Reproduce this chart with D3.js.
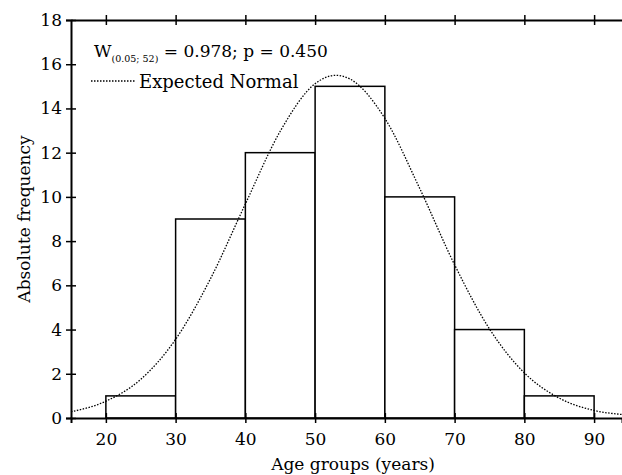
<!DOCTYPE html>
<html>
<head>
<meta charset="utf-8">
<script src="https://cdn.jsdelivr.net/npm/d3@7"></script>
<style>
  body { margin: 0; background: #fff; }
  svg { display: block; }
  text { font-family: "DejaVu Serif", serif; fill: #000; }
</style>
</head>
<body>
<div id="chart"></div>
<script>
// age group bins and counts
var binStarts = [20, 30, 40, 50, 60, 70, 80];
var binWidth = 10;
var counts = [1, 9, 12, 15, 10, 4, 1];

// expected normal curve
var curveX = [15, 20, 25, 30, 35, 40, 45, 50, 53, 55, 60, 65, 70, 75, 80, 85, 90, 94];
var curveY = [0.28, 0.76, 1.75, 3.56, 6.3, 9.68, 12.97, 15.12, 15.5, 15.33, 13.55, 10.38, 6.93, 4.03, 2.04, 0.9, 0.34, 0.16];

var xTicks = [20, 30, 40, 50, 60, 70, 80, 90];
var yTicks = [0, 2, 4, 6, 8, 10, 12, 14, 16, 18];

var W = 622, H = 475;
var m = {left: 71, right: 622, top: 20, bottom: 418};

var svg = d3.select("#chart").append("svg")
    .attr("width", W)
    .attr("height", H);

var x = d3.scaleLinear().domain([15, 94]).range([m.left, m.right]);
var y = d3.scaleLinear().domain([0, 18]).range([m.bottom, m.top]);

// bars
svg.selectAll("rect.bar")
    .data(binStarts)
  .enter().append("rect")
    .attr("class", "bar")
    .attr("x", function(d) { return x(d); })
    .attr("y", function(d, i) { return y(counts[i]); })
    .attr("width", function(d) { return x(d + binWidth) - x(d); })
    .attr("height", function(d, i) { return y(0) - y(counts[i]); })
    .attr("fill", "#fff")
    .attr("stroke", "#000")
    .attr("stroke-width", 1.5);

// normal curve
var line = d3.line()
    .x(function(d, i) { return x(curveX[i]); })
    .y(function(d) { return y(d); })
    .curve(d3.curveMonotoneX);

svg.append("path")
    .datum(curveY)
    .attr("d", line)
    .attr("fill", "none")
    .attr("stroke", "#000")
    .attr("stroke-width", 1.3)
    .attr("stroke-dasharray", "1.5,1.5");

// axes, ticks cross the line
function crossTicks(g, horiz) {
  g.select(".domain").attr("stroke-width", 2);
  g.selectAll(".tick line").attr("stroke-width", 1.5);
  if (horiz) g.selectAll(".tick line").attr("y1", -5).attr("y2", 5);
  else g.selectAll(".tick line").attr("x1", -5).attr("x2", 5);
}

var xAxis = svg.append("g")
    .attr("transform", "translate(0," + m.bottom + ")")
    .call(d3.axisBottom(x).tickValues(xTicks).tickSizeOuter(0).tickSize(5).tickPadding(10));
crossTicks(xAxis, true);
xAxis.selectAll("text").style("font-size", "17px").style("font-family", "DejaVu Serif");

var xTop = svg.append("g")
    .attr("transform", "translate(0," + m.top + ")")
    .call(d3.axisTop(x).tickValues(xTicks).tickSizeOuter(0).tickFormat(""));
crossTicks(xTop, true);

var yAxis = svg.append("g")
    .attr("transform", "translate(" + m.left + ",0)")
    .call(d3.axisLeft(y).tickValues(yTicks).tickSizeOuter(0).tickSize(5).tickPadding(4));
crossTicks(yAxis, false);
yAxis.selectAll("text").style("font-size", "17px").style("font-family", "DejaVu Serif");

// axis titles
svg.append("text")
    .attr("x", 353)
    .attr("y", 470)
    .attr("text-anchor", "middle")
    .style("font-size", "17px")
    .text("Age groups (years)");

svg.append("text")
    .attr("transform", "translate(30," + ((m.top + m.bottom) / 2) + ") rotate(-90)")
    .attr("text-anchor", "middle")
    .style("font-size", "17px")
    .text("Absolute frequency");

// annotation
var ann = svg.append("text")
    .attr("x", 94)
    .attr("y", 57)
    .style("font-size", "17px");
ann.append("tspan").text("W");
ann.append("tspan").attr("dy", 5).style("font-size", "9.5px").text("(0.05; 52)");
ann.append("tspan").attr("dy", -5).text(" = 0.978; p = 0.450");

// legend
svg.append("line")
    .attr("x1", 91).attr("x2", 136)
    .attr("y1", 81).attr("y2", 81)
    .attr("stroke", "#000")
    .attr("stroke-width", 1.3)
    .attr("stroke-dasharray", "1.5,1.5");

svg.append("text")
    .attr("x", 139)
    .attr("y", 88)
    .style("font-size", "18px")
    .text("Expected Normal");
</script>
</body>
</html>
